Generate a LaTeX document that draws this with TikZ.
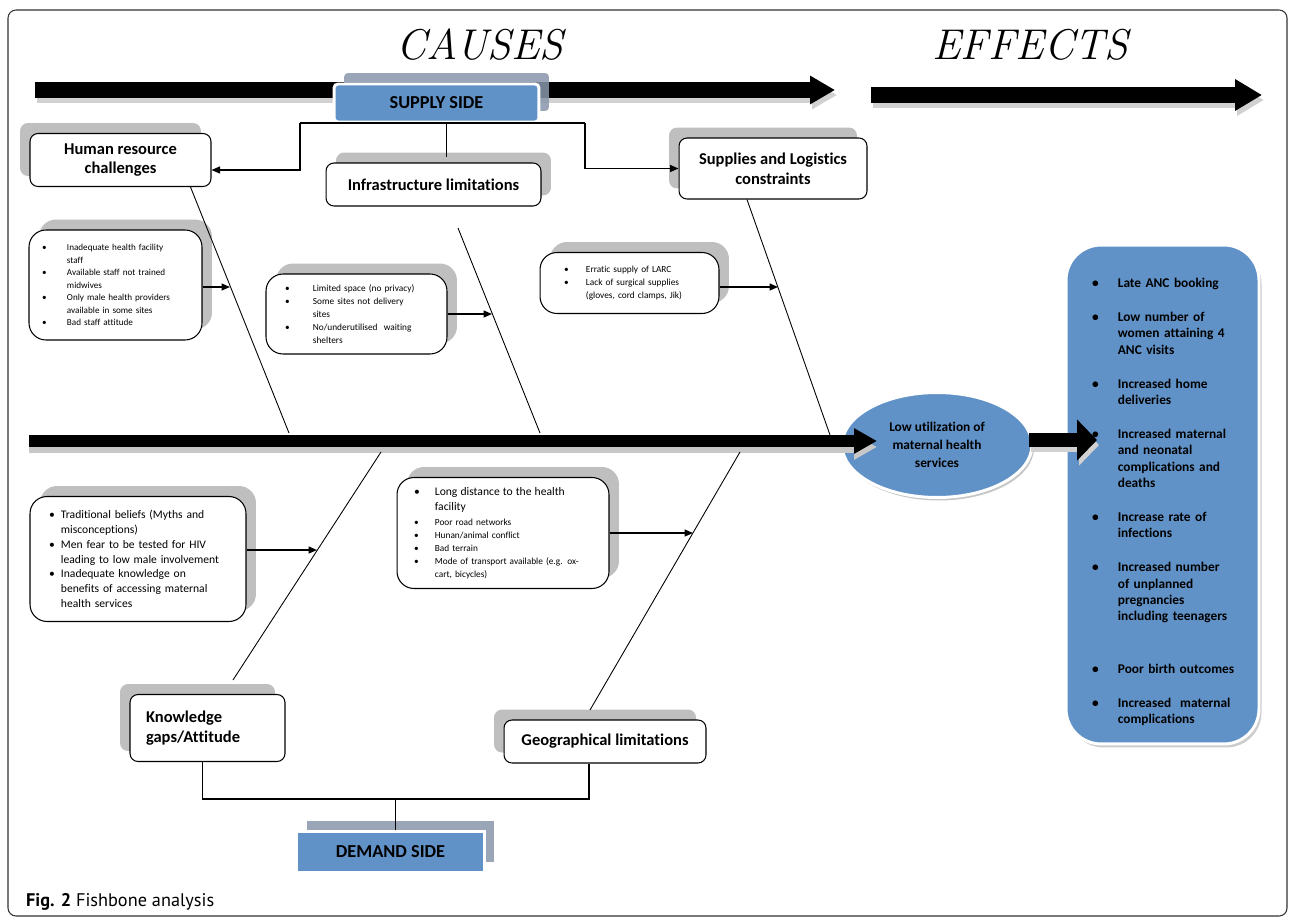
\documentclass[tikz,border=0pt]{standalone}
\usepackage{fontspec}
\setmainfont{Carlito}[Ligatures=NoCommon]
\newfontfamily\capfont{PT Sans}
\usetikzlibrary{arrows.meta,shapes.geometric,shadows}

\definecolor{sideblue}{RGB}{97,146,199}
\definecolor{shadegray}{RGB}{191,191,191}
\definecolor{slategray}{RGB}{136,151,172}

\newlength{\bulw}
\newcommand{\bul}{\makebox[\bulw][l]{\textbullet}}
\newcommand{\hang}{\hspace*{\bulw}}

\begin{document}
\begin{tikzpicture}[x={(0.02cm,0)}, y={(0,-0.02cm)},
  cause box/.style={draw, fill=white, rounded corners=0.16cm, line width=0.6pt, align=center, inner sep=0pt, font=\fontsize{9.4}{11.3}\selectfont\bfseries},
  list box/.style={draw, fill=white, rounded corners=0.34cm, line width=0.6pt, align=left, inner sep=0pt},
  side box/.style={fill=sideblue, draw=white, line width=1.7pt, inner sep=0pt, font=\fontsize{10.4}{12}\selectfont\bfseries},
  shade right/.style={general shadow={fill=shadegray, shadow xshift=0.2cm, shadow yshift=0.21cm}},
  shade left/.style={general shadow={fill=shadegray, shadow xshift=-0.2cm, shadow yshift=0.21cm}},
  bullets/.style={execute at begin node={\setlength{\bulw}{#1}}},
  fat arrow/.style n args={3}{line width=#1, -{Triangle[length=#2, width=#3]}},
  bone/.style={line width=0.5pt},
  link/.style={line width=0.8pt, -{Triangle[length=0.17cm, width=0.14cm]}},
  ]

  \useasboundingbox (0,0) rectangle (1290,919);
  \draw[line width=0.6pt, rounded corners=0.16cm, black!80] (8,10) rectangle (1287,916);

  % headings
  \node[font=\fontfamily{lmr}\itshape\fontsize{24.5}{28}\selectfont] (causes) at (480,45) {CAUSES};
  \node[font=\fontfamily{lmr}\itshape\fontsize{24.5}{28}\selectfont] (effects) at (1030,45) {EFFECTS};

  % top arrows
  \coordinate (causeL) at (35,90);
  \coordinate (causeR) at (835,90);
  \coordinate (effL) at (871,95);
  \coordinate (effR) at (1262,95);
  \draw[fat arrow={0.34cm}{0.5cm}{0.54cm}, black!18] ([shift={(2,5)}]causeL) -- ([shift={(2,5)}]causeR);
  \draw[fat arrow={0.34cm}{0.5cm}{0.54cm}] (causeL) -- (causeR);
  \draw[fat arrow={0.32cm}{0.54cm}{0.6cm}, black!18] ([shift={(2,5)}]effL) -- ([shift={(2,5)}]effR);
  \draw[fat arrow={0.32cm}{0.54cm}{0.6cm}] (effL) -- (effR);

  % supply side
  \node[side box, minimum width=4.1cm, minimum height=0.76cm, rounded corners=0.08cm,
    general shadow={fill=slategray, fill opacity=0.85, shadow xshift=0.2cm, shadow yshift=0.22cm}] (supply) at (436.5,103) {SUPPLY SIDE};

  \node[cause box, shade left, minimum width=3.62cm, minimum height=1.06cm] (hr) at (120.5,160) {Human resource\\challenges};
  \node[cause box, shade right, minimum width=4.3cm, minimum height=0.86cm] (infra) at (433.5,184.5) {Infrastructure limitations};
  \node[cause box, shade left, minimum width=3.76cm, minimum height=1.22cm] (logist) at (773,168.5) {Supplies and Logistics\\constraints};

  \node[list box, shade right, bullets=14.2pt, minimum width=3.46cm, minimum height=2.2cm, text width=2.94cm, font=\fontsize{5.2}{7.1}\selectfont] (hrlist) at (115.5,285)
    {\bul Inadequate health facility\\ \hang staff\\ \bul Available staff not trained\\ \hang midwives\\ \bul Only male health providers\\ \hang available in some sites\\ \bul Bad staff attitude};
  \node[list box, shade right, bullets=15.9pt, minimum width=3.62cm, minimum height=1.6cm, text width=2.86cm, font=\fontsize{5.3}{7.4}\selectfont] (infralist) at (356.5,314)
    {\bul Limited space (no privacy)\\ \bul Some sites not delivery\\ \hang sites\\ \bul No/underutilised\ \ waiting\\ \hang shelters};
  \node[list box, shade right, bullets=12.5pt, minimum width=3.58cm, minimum height=1.22cm, text width=2.62cm, font=\fontsize{5.3}{7.4}\selectfont] (loglist) at (629.5,283)
    {\bul Erratic supply of LARC\\ \bul Lack of surgical supplies\\ \hang (gloves, cord clamps, Jik)};

  % demand side
  \node[list box, shade right, bullets=6.8pt, minimum width=4.32cm, minimum height=2.5cm, text width=3.56cm, font=\fontsize{6.6}{8.4}\selectfont] (knowlist) at (138,559)
    {\bul Traditional beliefs (Myths and\\ \hang misconceptions)\\ \bul Men fear to be tested for HIV\\ \hang leading to low male involvement\\ \bul Inadequate knowledge on\\ \hang benefits of accessing maternal\\ \hang health services};
  \node[list box, shade right, bullets=11.9pt, minimum width=4.24cm, minimum height=2.22cm, text width=3.56cm, font=\fontsize{5.3}{7.4}\selectfont] (geolist) at (503,533)
    {{\fontsize{6.6}{8.4}\selectfont\bul Long distance to the health}\\[1pt] \hang{\fontsize{6.6}{8.4}\selectfont facility}\\[1pt] \bul Poor road networks\\ \bul Hunan/animal conflict\\ \bul Bad terrain\\ \bul Mode of transport available (e.g. ox-\\ \hang cart, bicycles)};

  \node[cause box, shade left, minimum width=3.1cm, minimum height=1.34cm, text width=2.46cm, align=left] (knowgap) at (207.5,728) {Knowledge\\gaps/Attitude};
  \node[cause box, shade left, minimum width=4.04cm, minimum height=0.86cm] (geog) at (605,741.5) {Geographical limitations};
  \node[side box, minimum width=3.75cm, minimum height=0.81cm,
    general shadow={fill=slategray, fill opacity=0.85, shadow xshift=0.2cm, shadow yshift=0.21cm}] (demand) at (390.5,852) {DEMAND SIDE};

  % problem and effects
  \node[ellipse, fill=sideblue, draw=white, line width=1.7pt, minimum width=3.8cm, minimum height=2.1cm, inner sep=0pt, align=center,
    font=\fontsize{7.6}{10.2}\selectfont\bfseries, general shadow={fill=gray!45, shadow xshift=0.04cm, shadow yshift=-0.06cm}] (lowuse) at (937,445)
    {Low utilization of\\maternal health\\services};
  \node[rectangle, fill=sideblue, draw=white, line width=1.7pt, rounded corners=0.7cm, minimum width=3.86cm, minimum height=9.98cm,
    text width=2.82cm, align=left, inner sep=0pt, bullets=14.7pt, font=\fontsize{7.6}{9.35}\selectfont\bfseries,
    general shadow={fill=gray!40, shadow xshift=0.05cm, shadow yshift=-0.07cm}] (effect) at (1162.5,494.5)
    {\rule{0pt}{14pt}\bul Late ANC booking\\[9.9pt]
     \bul Low number of\\ \hang women attaining 4\\ \hang ANC visits\\[9.9pt]
     \bul Increased home\\ \hang deliveries\\[9.9pt]
     \bul Increased maternal\\ \hang and neonatal\\ \hang complications and\\ \hang deaths\\[9.9pt]
     \bul Increase rate of\\ \hang infections\\[9.9pt]
     \bul Increased number\\ \hang of unplanned\\ \hang pregnancies\\ \hang \mbox{including teenagers}\\[20.7pt]
     \bul \mbox{Poor birth outcomes}\\[9.9pt]
     \bul \mbox{Increased\ \ maternal}\\ \hang complications};

  % spine
  \coordinate (spineL) at (29,441);
  \coordinate (spineR) at (877,441);
  \draw[fat arrow={0.24cm}{0.46cm}{0.48cm}, black!22] ([shift={(0,6)}]spineL) -- ([shift={(0,6)}]spineR);
  \draw[fat arrow={0.24cm}{0.46cm}{0.48cm}] (spineL) -- (spineR);
  \coordinate (effTip) at (1097,440);
  \draw[fat arrow={0.28cm}{0.4cm}{0.8cm}, black!18] ([shift={(-2,0)}]lowuse.east) -- ([shift={(2,5)}]effTip);
  \draw[fat arrow={0.28cm}{0.4cm}{0.8cm}] ([shift={(-4,-5)}]lowuse.east) -- (effTip);

  % supply connectors
  \coordinate (supL) at (300,123);
  \coordinate (supR) at (585,123);
  \draw[line width=0.8pt] (supL) -- (supR);
  \draw[line width=0.8pt] ([shift={(10,0)}]supply.south) -- ++(0,34);
  \draw[link] (supL) |- ([shift={(0,10)}]hr.east);
  \draw[link] (supR) |- (logist.west);

  % bones
  \coordinate (hrS) at (289,433);
  \coordinate (infraB) at (458,228);
  \coordinate (infraS) at (540,433);
  \coordinate (logS) at (830,435);
  \coordinate (knowS) at (381,452);
  \coordinate (knowB) at (233,680);
  \coordinate (geoS) at (740,452);
  \coordinate (geoB) at (590,710);
  \draw[bone] ([shift={(-21,0)}]hr.south east) -- (hrS);
  \draw[bone] (infraB) -- (infraS);
  \draw[bone] ([shift={(-26,0)}]logist.south) -- (logS);
  \draw[bone] (knowS) -- (knowB);
  \draw[bone] (geoS) -- (geoB);

  % arrows into the bones
  \coordinate (hrT) at (230,287);
  \coordinate (infraT) at (492,314);
  \coordinate (logT) at (778,287);
  \coordinate (knowT) at (317,550);
  \coordinate (geoT) at (693,533);
  \path (hrlist.east |- hrT) edge[link] (hrT)
        (infralist.east |- infraT) edge[link] (infraT)
        (loglist.east |- logT) edge[link] (logT)
        (knowlist.east |- knowT) edge[link] (knowT)
        (geolist.east |- geoT) edge[link] (geoT);

  % demand connectors
  \draw[line width=0.7pt] ([shift={(-5,0)}]knowgap.south) -- ++(0,37) -| ([shift={(-16,0)}]geog.south);
  \draw[line width=0.7pt] ([shift={(5,0)}]demand.north) -- ++(0,-31);

  \node[anchor=west, font=\capfont\fontsize{10.4}{12}\selectfont] (caption) at (20,902) {\textbf{Fig. 2} Fishbone analysis};
\end{tikzpicture}
\end{document}
